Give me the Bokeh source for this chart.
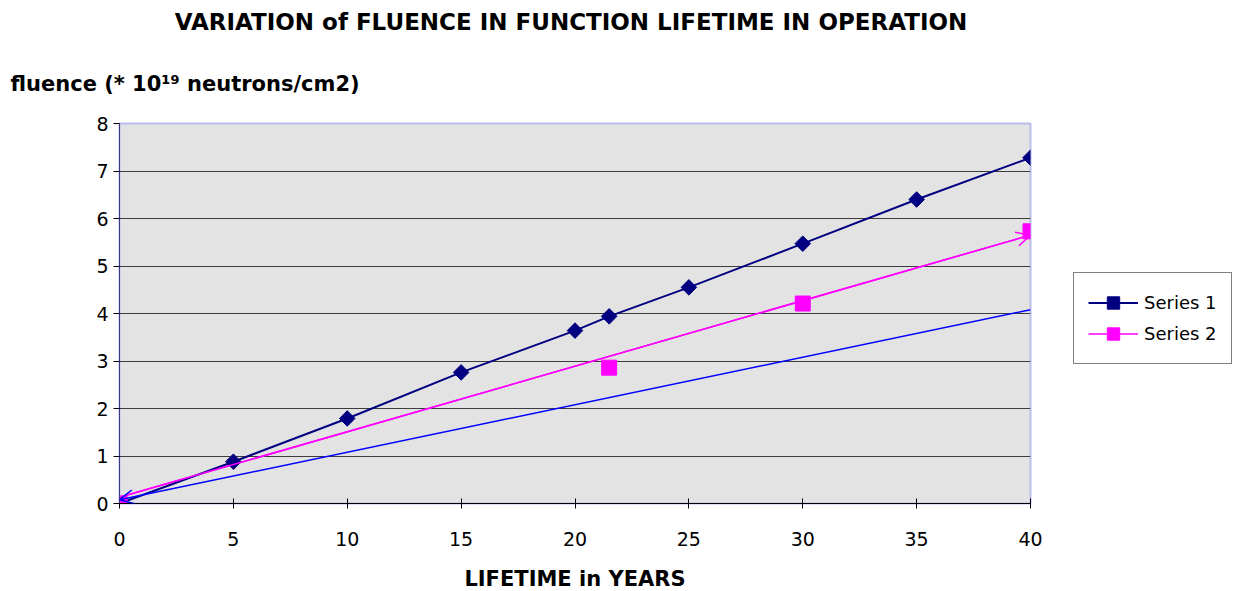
import math
from bokeh.plotting import figure
from bokeh.models import (ColumnDataSource, Arrow, OpenHead, Title, Legend, LegendItem,
                          Range1d, FixedTicker)
from bokeh.embed import file_html
from bokeh.resources import INLINE

# ---- data ----
years_s1 = [0, 5, 10, 15, 20, 21.5, 25, 30, 35, 40]
fluence_s1 = [0, 0.88, 1.79, 2.76, 3.64, 3.94, 4.55, 5.47, 6.40, 7.28]
years_s2 = [0, 21.5, 30, 40]
fluence_s2 = [0, 2.86, 4.21, 5.73]
pink_trend_x = [0, 40]
pink_trend_y = [0.13, 5.65]
blue_trend_x = [40, 0]
blue_trend_y = [4.08, 0.08]
x_ticks = [0, 5, 10, 15, 20, 25, 30, 35, 40]
y_ticks = [0, 1, 2, 3, 4, 5, 6, 7, 8]

title_text = "VARIATION of FLUENCE IN  FUNCTION LIFETIME IN OPERATION"
ylabel_text = "fluence (* 10\u00b9\u2079 neutrons/cm2)"
xlabel_text = "LIFETIME in YEARS"

FONT = "DejaVu Sans"
p = figure(frame_width=911, frame_height=380, output_backend="svg", toolbar_location=None,
           x_range=Range1d(0, 40), y_range=Range1d(0, 8),
           min_border_left=119, min_border_right=10, min_border_top=121, min_border_bottom=88)

p.background_fill_color = "#e3e3e3"
p.border_fill_color = "white"
p.outline_line_color = "#bcbcec"
p.outline_line_width = 2

p.xgrid.visible = False
p.ygrid.ticker = FixedTicker(ticks=y_ticks)
p.ygrid.grid_line_color = "#3c3c3c"
p.ygrid.grid_line_width = 1

p.xaxis.ticker = FixedTicker(ticks=x_ticks)
p.yaxis.ticker = FixedTicker(ticks=y_ticks)
for ax in (p.xaxis, p.yaxis):
    ax.major_label_text_font = FONT
    ax.major_label_text_font_size = "19px"
    ax.major_label_text_color = "black"
    ax.minor_tick_line_color = None
    ax.major_tick_line_color = "black"
p.xaxis.axis_line_color = "black"
p.yaxis.axis_line_color = "#3a3a80"
p.xaxis.major_tick_in = 5
p.xaxis.major_tick_out = 5
p.xaxis.major_label_standoff = 23
p.yaxis.major_tick_in = 0
p.yaxis.major_tick_out = 6
p.yaxis.major_label_standoff = 5
p.xaxis.axis_label = xlabel_text
p.xaxis.axis_label_text_font = FONT
p.xaxis.axis_label_text_font_style = "bold"
p.xaxis.axis_label_text_font_size = "21px"
p.xaxis.axis_label_text_color = "black"
p.xaxis.axis_label_standoff = 18

# trend lines with arrowheads
pink_line = p.line(pink_trend_x, pink_trend_y, line_color="#ff00ff", line_width=1.5)
pink_src = ColumnDataSource(dict(x0=[pink_trend_x[0]], y0=[pink_trend_y[0]],
                                 x1=[pink_trend_x[1]], y1=[pink_trend_y[1]]))
p.add_layout(Arrow(x_start="x0", y_start="y0", x_end="x1", y_end="y1", source=pink_src,
                   line_color="#ff00ff", line_width=1.5,
                   end=OpenHead(size=14, line_color="#ff00ff", line_width=1.5)))
blue_src = ColumnDataSource(dict(x0=[blue_trend_x[0]], y0=[blue_trend_y[0]],
                                 x1=[blue_trend_x[1]], y1=[blue_trend_y[1]]))
p.add_layout(Arrow(x_start="x0", y_start="y0", x_end="x1", y_end="y1", source=blue_src,
                   line_color="#0000ff", line_width=1.5,
                   end=OpenHead(size=14, line_color="#0000ff", line_width=1.5)))

# series 1
s1_line = p.line(years_s1, fluence_s1, line_color="#000080", line_width=2)
s1_pts = p.scatter(years_s1, fluence_s1, marker="square", size=11, angle=math.pi / 4,
                   fill_color="#000080", line_color="#000080")
# series 2
s2_pts = p.scatter(years_s2, fluence_s2, marker="square", size=15,
                   fill_color="#ff00ff", line_color="#ff00ff")

legend = Legend(items=[LegendItem(label="Series 1", renderers=[s1_line, s1_pts]),
                       LegendItem(label="Series 2", renderers=[pink_line, s2_pts])],
                location=(43, 139), orientation="vertical")
legend.label_text_font = FONT
legend.label_text_font_size = "18px"
legend.label_text_color = "black"
legend.glyph_width = 50
legend.glyph_height = 31
legend.label_height = 31
legend.spacing = 0
legend.padding = 14
legend.margin = 0
legend.label_standoff = 6
legend.border_line_color = "black"
legend.border_line_width = 1
legend.background_fill_color = "white"
legend.background_fill_alpha = 1
p.add_layout(legend, "right")

# titles: first added sits closest to the frame
p.add_layout(Title(text=ylabel_text, align="left", offset=-109, standoff=56,
                   text_font=FONT, text_font_style="bold", text_font_size="21px",
                   text_color="black"), "above")
p.add_layout(Title(text=title_text, align="center", standoff=13,
                   text_font=FONT, text_font_style="bold", text_font_size="23px",
                   text_color="black"), "above")

open("out.html", "w").write(file_html(p, INLINE))
